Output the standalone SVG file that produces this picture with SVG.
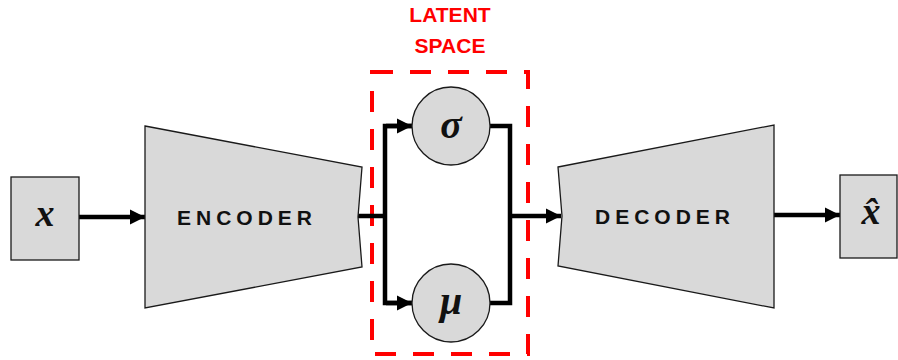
<svg xmlns="http://www.w3.org/2000/svg" width="898" height="360" viewBox="0 0 898 360">
  <style>
    .shape { fill: #d9d9d9; stroke: #1a1a1a; stroke-width: 1.3; }
    .wire { fill: none; stroke: #000; stroke-width: 4.5; stroke-linejoin: miter; }
    .label { font-family: "Liberation Sans", Arial, sans-serif; font-weight: bold; font-size: 21px; letter-spacing: 5px; fill: #111; }
    .math { font-family: "Liberation Serif", "DejaVu Serif", serif; font-weight: bold; font-style: italic; fill: #111; text-anchor: middle; }
    .latent { font-family: "Liberation Sans", Arial, sans-serif; font-weight: bold; font-size: 21px; fill: #ff0000; text-anchor: middle; }
  </style>
  <defs>
    <marker id="arrow" markerUnits="userSpaceOnUse" markerWidth="17" markerHeight="17" refX="15" refY="8.5" orient="auto">
      <path d="M0,1 L15,8.5 L0,16 Z" fill="#000"/>
    </marker>
  </defs>

  <rect width="898" height="360" fill="#fff"/>

  <!-- latent space frame -->
  <g id="latent-space">
    <rect x="372" y="72" width="156" height="282" fill="none" stroke="#ff0000" stroke-width="4" stroke-dasharray="21 17"/>
    <text class="latent" x="450" y="22">LATENT</text>
    <text class="latent" x="450" y="53">SPACE</text>
  </g>

  <!-- connectors -->
  <g id="connectors">
    <line class="wire" x1="79" y1="217" x2="145" y2="217" marker-end="url(#arrow)"/>
    <line class="wire" x1="358" y1="216" x2="387" y2="216"/>
    <polyline class="wire" points="412,126 385,126 385,303 412,303"/>
    <line class="wire" x1="386" y1="126" x2="412" y2="126" marker-end="url(#arrow)"/>
    <line class="wire" x1="386" y1="303" x2="412" y2="303" marker-end="url(#arrow)"/>
    <polyline class="wire" points="490,126 510,126 510,303 490,303"/>
    <line class="wire" x1="508" y1="216" x2="561" y2="216" marker-end="url(#arrow)"/>
    <line class="wire" x1="774" y1="215" x2="840" y2="215" marker-end="url(#arrow)"/>
  </g>

  <!-- input -->
  <g id="input">
    <rect class="shape" x="11" y="177" width="68" height="83"/>
    <text class="math" x="45" y="226" font-size="38">x</text>
  </g>

  <!-- encoder -->
  <g id="encoder">
    <path class="shape" d="M145,126 L362,167 L358,217 L362,267 L145,308 Z"/>
    <text class="label" x="177" y="225">ENCODER</text>
  </g>

  <!-- sigma -->
  <g id="sigma">
    <circle class="shape" cx="451" cy="126" r="39"/>
    <text class="math" x="451" y="138" font-size="40">σ</text>
  </g>

  <!-- mu -->
  <g id="mu">
    <circle class="shape" cx="451" cy="303" r="39"/>
    <text class="math" x="451" y="314" font-size="40">μ</text>
  </g>

  <!-- decoder -->
  <g id="decoder">
    <path class="shape" d="M558,167 L774,125 L774,308 L558,266 L562,216 Z"/>
    <text class="label" x="595" y="224">DECODER</text>
  </g>

  <!-- output -->
  <g id="output">
    <rect class="shape" x="840" y="175" width="57" height="83"/>
    <text class="math" x="871" y="224" font-size="38">x̂</text>
  </g>
</svg>
